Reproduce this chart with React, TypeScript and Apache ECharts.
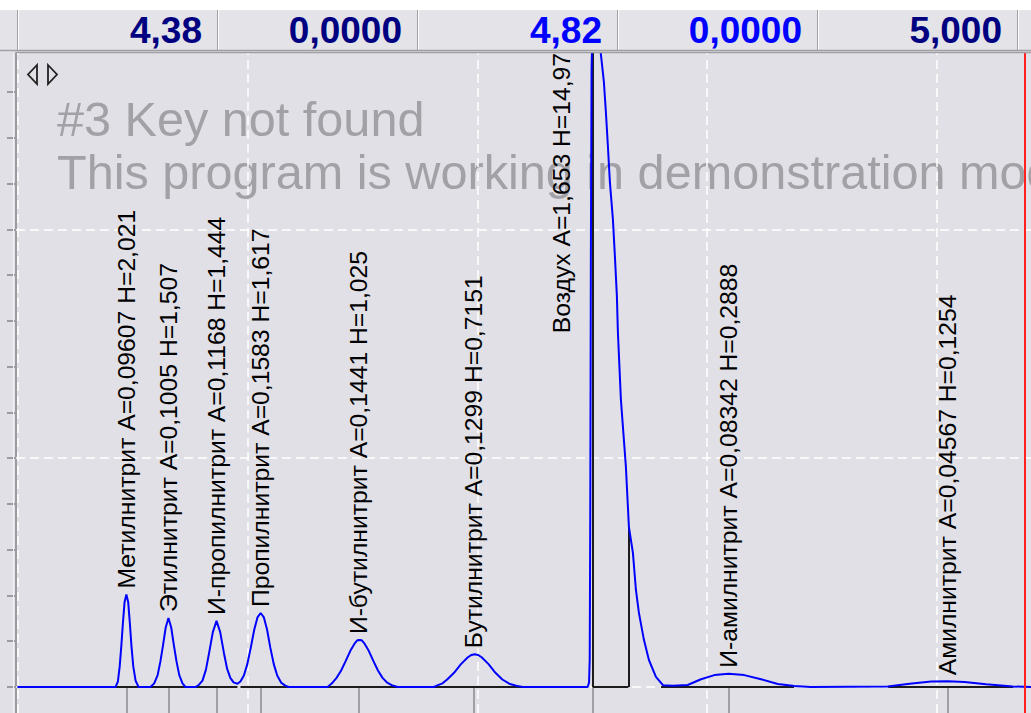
import React, { useEffect, useRef } from 'react';
import * as echarts from 'echarts';

// ---- data ----
const headerValues = ['4,38', '0,0000', '4,82', '0,0000', '5,000'];
const headerColors = ['#000080', '#000080', '#0000ff', '#0000ff', '#000080'];

const peakNames = [
  'Метилнитрит', 'Этилнитрит', 'И-пропилнитрит', 'Пропилнитрит', 'И-бутилнитрит',
  'Бутилнитрит', 'Воздух', 'И-амилнитрит', 'Амилнитрит',
];
const peakAreas = ['0,09607', '0,1005', '0,1168', '0,1583', '0,1441', '0,1299', '1,653', '0,08342', '0,04567'];
const peakHeights = ['2,021', '1,507', '1,444', '1,617', '1,025', '0,7151', '14,97', '0,2888', '0,1254'];
const retentionTimes = [0.475, 0.657, 0.866, 1.058, 1.485, 1.985, 2.503, 3.093, 4.047];
const peakStarts = [0.427, 0.579, 0.775, 0.970, 1.349, 1.811, 2.503, 2.799, 3.787];
const peakEnds = [0.527, 0.731, 0.957, 1.180, 1.654, 2.198, 2.657, 3.378, 4.331];
const labelTimes = [0.475, 0.657, 0.866, 1.058, 1.485, 1.985, 2.368, 3.093, 4.047];
const labelValues = [2.021, 1.507, 1.444, 1.617, 1.025, 0.7151, 7.6, 0.2888, 0.1254];
const dropLines = [[2.503, 14.97], [2.657, 3.5]];
const cursorTime = 4.38;
const yTicks = [0, 1, 2, 3, 4, 5, 6, 7, 8, 9, 10, 11, 12, 13];
const xGridValues = [0, 1, 2, 3, 4];
const yGridValues = [0, 5, 10];
const watermarkLines = ['#3 Key not found', 'This program is working in demonstration mode'];

const signal = [
  [0, 0], [0.427, 0],
  [0.437, 0.12], [0.445, 0.45], [0.452, 0.9], [0.459, 1.4], [0.466, 1.85], [0.474, 2.021],
  [0.482, 1.85], [0.489, 1.4], [0.496, 0.9], [0.504, 0.45], [0.514, 0.14], [0.527, 0],
  [0.579, 0],
  [0.595, 0.08], [0.61, 0.26], [0.622, 0.56], [0.633, 0.9], [0.645, 1.3], [0.657, 1.507],
  [0.669, 1.3], [0.681, 0.9], [0.692, 0.56], [0.704, 0.26], [0.718, 0.08], [0.731, 0],
  [0.775, 0],
  [0.79, 0.05], [0.805, 0.14], [0.82, 0.38], [0.834, 0.75], [0.85, 1.2], [0.866, 1.444],
  [0.882, 1.2], [0.898, 0.75], [0.912, 0.4], [0.926, 0.2], [0.94, 0.1], [0.957, 0.07],
  [0.97, 0.12], [0.985, 0.25], [1.0, 0.5], [1.015, 0.86], [1.03, 1.25], [1.044, 1.52], [1.058, 1.617],
  [1.072, 1.52], [1.086, 1.25], [1.1, 0.86], [1.115, 0.5], [1.13, 0.25], [1.148, 0.09], [1.165, 0.03], [1.18, 0],
  [1.349, 0],
  [1.368, 0.08], [1.388, 0.2], [1.408, 0.36], [1.428, 0.57], [1.448, 0.79], [1.468, 0.96], [1.478, 1.02],
  [1.488, 1.025], [1.498, 1.02], [1.508, 0.96], [1.528, 0.79], [1.548, 0.57], [1.568, 0.36], [1.588, 0.2],
  [1.608, 0.095], [1.628, 0.04], [1.654, 0],
  [1.811, 0],
  [1.829, 0.04], [1.849, 0.08], [1.869, 0.164], [1.899, 0.31], [1.929, 0.5], [1.959, 0.65], [1.975, 0.7],
  [1.989, 0.7151], [2.003, 0.7], [2.019, 0.65], [2.049, 0.5], [2.079, 0.31], [2.109, 0.164], [2.139, 0.072],
  [2.169, 0.026], [2.198, 0],
  [2.48, 0],
  [2.486, 0.1], [2.489, 0.6], [2.4915, 4.0], [2.494, 9.5], [2.497, 13.5], [2.503, 14.97], [2.515, 14.7],
  [2.527, 14.3], [2.5375, 13.83], [2.5506, 13.22], [2.5593, 12.56], [2.568, 11.82], [2.5767, 11.03],
  [2.5898, 10.22], [2.5985, 9.41], [2.6072, 8.53], [2.6115, 7.75], [2.6246, 6.28], [2.6376, 5.4],
  [2.6463, 4.81], [2.6594, 3.5], [2.6768, 2.93], [2.6899, 2.12], [2.7029, 1.62], [2.7247, 1.03],
  [2.7465, 0.59], [2.7769, 0.22], [2.8074, 0.04],
  [2.85, 0.03], [2.915, 0.044], [2.973, 0.17], [3.031, 0.26], [3.093, 0.2888], [3.161, 0.26],
  [3.234, 0.17], [3.307, 0.066], [3.379, 0.02], [3.45, 0],
  [3.785, 0.01], [3.88, 0.07], [3.974, 0.12], [4.047, 0.1254], [4.119, 0.11], [4.213, 0.06],
  [4.329, 0.01], [4.4135, 0],
];

// ---- layout ----
const W = 1031;
const H = 713;
const PLOT_TOP = 53;
const PLOT_LEFT = 16;
const X_MIN = -0.006;
const X_MAX = 4.408;
const Y_MIN = -0.568;
const Y_MAX = 13.853;
const FONT = '"Liberation Sans", Arial, sans-serif';

function buildGraphic() {
  const g: any[] = [];
  g.push({ type: 'rect', z: 100, silent: true, shape: { x: 0, y: 0, width: W, height: 10 }, style: { fill: '#ffffff' } });
  g.push({ type: 'rect', z: 100, silent: true, shape: { x: 0, y: 10, width: W, height: 42 }, style: { fill: '#e3e3e8' } });
  const seps = [17, 217, 417, 617, 817, 1017];
  seps.forEach((x) => {
    g.push({ type: 'line', z: 101, silent: true, shape: { x1: x + 0.5, y1: 10, x2: x + 0.5, y2: 51 }, style: { stroke: '#a0a0a4', lineWidth: 1 } });
    g.push({ type: 'line', z: 101, silent: true, shape: { x1: x + 1.5, y1: 10, x2: x + 1.5, y2: 51 }, style: { stroke: '#ffffff', lineWidth: 1 } });
  });
  g.push({ type: 'line', z: 101, silent: true, shape: { x1: 0, y1: 50.5, x2: W, y2: 50.5 }, style: { stroke: '#a0a0a4', lineWidth: 1.5 } });
  g.push({ type: 'line', z: 101, silent: true, shape: { x1: PLOT_LEFT, y1: PLOT_TOP - 0.5, x2: W, y2: PLOT_TOP - 0.5 }, style: { stroke: '#a0a0a4', lineWidth: 1.5 } });
  headerValues.forEach((txt, i) => {
    g.push({
      type: 'text', z: 102, silent: true,
      x: 202 + i * 200, y: 30,
      style: { text: txt, fill: headerColors[i], font: `bold 37px ${FONT}`, align: 'right', verticalAlign: 'middle' },
    });
  });
  // ◁▷ icon
  g.push({ type: 'polygon', z: 50, silent: true, shape: { points: [[37, 65], [28, 74.5], [37, 84]] }, style: { fill: 'none', stroke: '#222', lineWidth: 1.8 } });
  g.push({ type: 'polygon', z: 50, silent: true, shape: { points: [[48, 65], [57, 74.5], [48, 84]] }, style: { fill: 'none', stroke: '#222', lineWidth: 1.8 } });
  // left axis strip highlight
  g.push({ type: 'line', z: 50, silent: true, shape: { x1: 13.5, y1: PLOT_TOP, x2: 13.5, y2: H }, style: { stroke: '#f4f4f8', lineWidth: 1 } });
  // watermark
  watermarkLines.forEach((txt, i) => {
    g.push({
      type: 'text', z: 1, silent: true,
      x: 57, y: 119 + i * 53,
      style: { text: txt, fill: '#a2a2a6', font: `48.6px ${FONT}`, align: 'left', verticalAlign: 'middle' },
    });
  });
  return g;
}

function buildOption() {
  const noLabel = { show: false };
  return {
    animation: false,
    backgroundColor: '#e0e0e6',
    grid: { left: PLOT_LEFT, right: 0, top: PLOT_TOP, bottom: 0, containLabel: false },
    xAxis: {
      type: 'value', min: X_MIN, max: X_MAX,
      axisLine: { show: false }, axisTick: { show: false }, axisLabel: { show: false }, splitLine: { show: false },
    },
    yAxis: {
      type: 'value', min: Y_MIN, max: Y_MAX,
      axisLine: { show: true, onZero: false, lineStyle: { color: '#9c9ca0', width: 2 } },
      axisTick: { show: true, customValues: yTicks, length: 9, inside: false, lineStyle: { color: '#9c9ca0', width: 2 } },
      axisLabel: { show: false },
      splitLine: { show: false },
    },
    graphic: buildGraphic(),
    series: [
      {
        name: 'grid', type: 'line', z: 2, data: [[0, 0]], symbol: 'none', lineStyle: { width: 0 }, silent: true,
        markLine: {
          z: 2, silent: true, symbol: ['none', 'none'], label: noLabel,
          lineStyle: { color: '#ffffff', type: [9, 5], width: 1.5 },
          data: [...xGridValues.map((v) => ({ xAxis: v })), ...yGridValues.map((v) => ({ yAxis: v }))],
        },
      },
      {
        name: 'ticks', type: 'line', z: 3, data: [[0, 0]], symbol: 'none', lineStyle: { width: 0 }, silent: true,
        markLine: {
          z: 3, silent: true, symbol: ['none', 'none'], label: noLabel,
          lineStyle: { color: '#a0a0a4', type: 'solid', width: 2 },
          data: retentionTimes.map((t) => [{ coord: [t, 0] }, { coord: [t, Y_MIN] }]),
        },
      },
      {
        name: 'baselines', type: 'line', z: 3, data: [[0, 0]], symbol: 'none', lineStyle: { width: 0 }, silent: true,
        markLine: {
          z: 3, silent: true, symbol: ['none', 'none'], label: noLabel,
          lineStyle: { color: '#1c1c1c', type: 'solid', width: 2 },
          data: [
            ...peakStarts.map((s, i) => [{ coord: [s, 0] }, { coord: [peakEnds[i], 0] }]),
            ...dropLines.map((d) => [{ coord: [d[0], 0] }, { coord: [d[0], Math.min(d[1], Y_MAX)] }]),
          ],
        },
      },
      {
        name: 'signal', type: 'line', z: 4, data: signal, symbol: 'none', showSymbol: false, smooth: false, clip: true,
        lineStyle: { color: '#0000ff', width: 2 }, silent: true,
      },
      {
        name: 'cursor', type: 'line', z: 6, data: [[0, 0]], symbol: 'none', lineStyle: { width: 0 }, silent: true,
        markLine: {
          z: 6, silent: true, symbol: ['none', 'none'], label: noLabel,
          lineStyle: { color: '#ff2020', type: 'solid', width: 2 },
          data: [{ xAxis: cursorTime }],
        },
      },
      {
        name: 'labels', type: 'custom', z: 7, silent: true,
        data: labelTimes.map((t, i) => [t, labelValues[i], i]),
        renderItem: (params: any, api: any) => {
          const i = api.value(2);
          const p = api.coord([api.value(0), api.value(1)]);
          return {
            type: 'text',
            x: p[0], y: p[1] - 6,
            rotation: Math.PI / 2,
            style: {
              text: `${peakNames[i]} A=${peakAreas[i]} H=${peakHeights[i]}`,
              fill: '#000000',
              font: `24.7px ${FONT}`,
              align: 'left',
              verticalAlign: 'middle',
            },
          };
        },
      },
    ],
  };
}

export default function App() {
  const ref = useRef<HTMLDivElement>(null);
  useEffect(() => {
    if (!ref.current) return;
    const chart = echarts.init(ref.current, undefined, { renderer: 'svg' });
    chart.setOption(buildOption() as any);
    return () => chart.dispose();
  }, []);
  return <div ref={ref} style={{ position: 'fixed', left: 0, top: 0, width: W, height: H }} />;
}
